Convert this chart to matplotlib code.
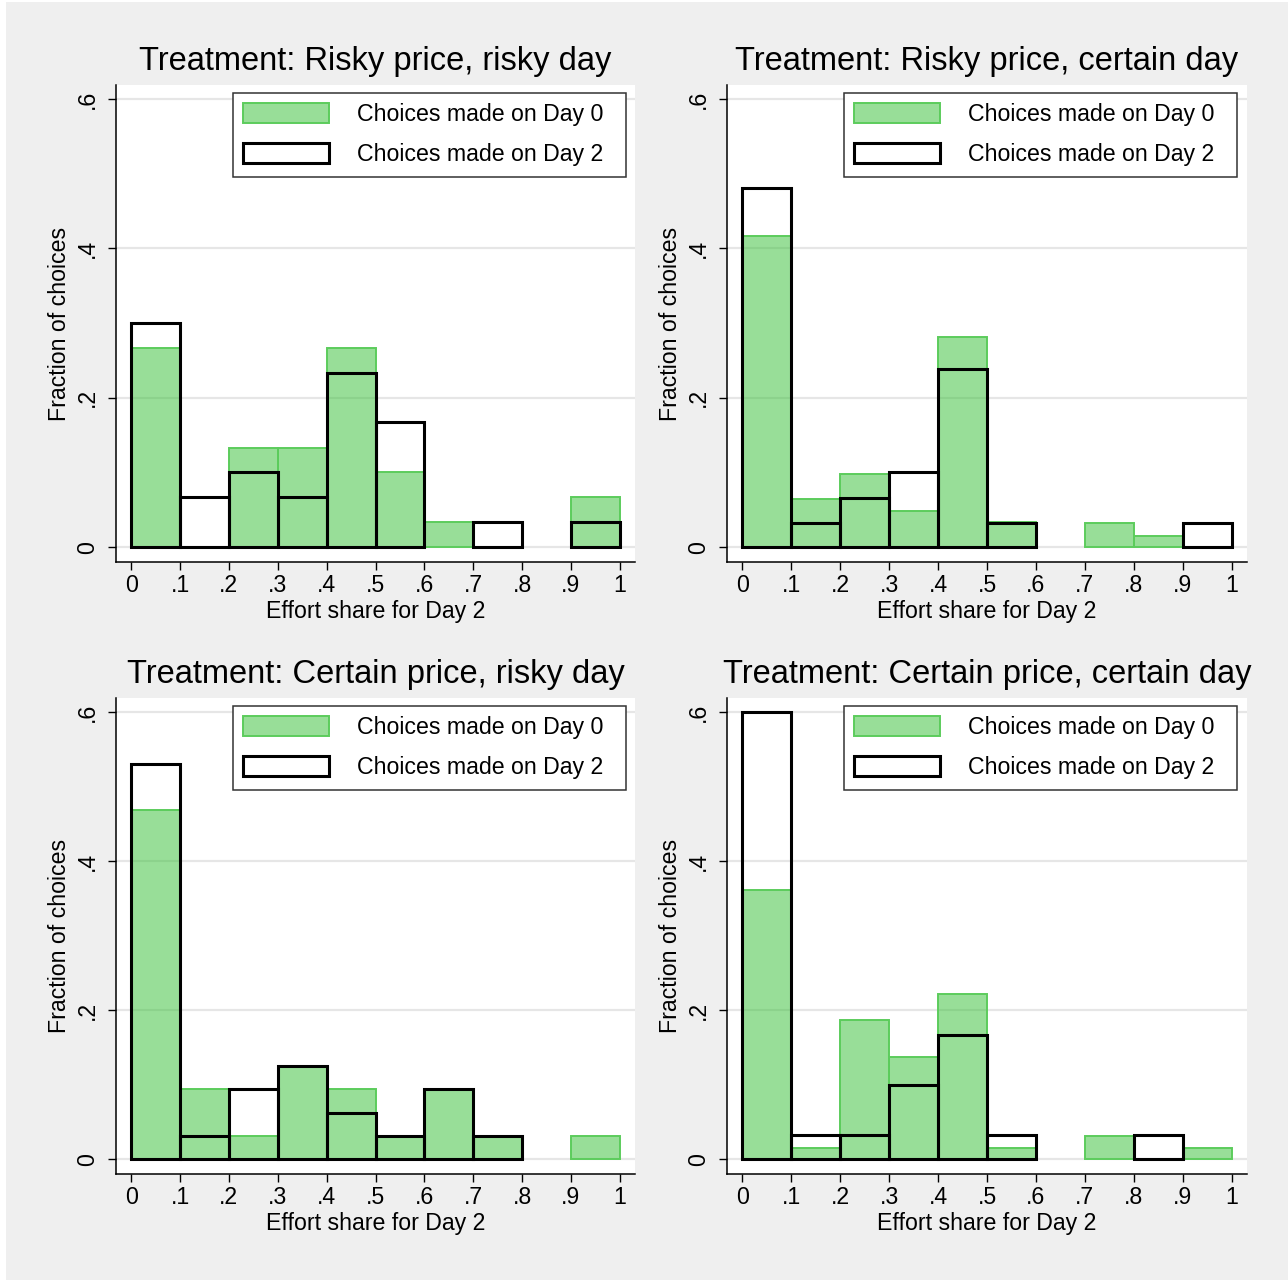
import matplotlib
matplotlib.use("Agg")
import matplotlib.pyplot as plt
from matplotlib.patches import Patch, Rectangle

plt.rcParams["font.family"] = ["Liberation Sans", "DejaVu Sans"]

# bin left edges (effort share for Day 2)
bins = [0.0, 0.1, 0.2, 0.3, 0.4, 0.5, 0.6, 0.7, 0.8, 0.9]

titles = [
    "Treatment: Risky price, risky day",
    "Treatment: Risky price, certain day",
    "Treatment: Certain price, risky day",
    "Treatment: Certain price, certain day",
]

# fraction of choices per bin, choices made on Day 0
day0_rr = [0.267, 0.0, 0.133, 0.133, 0.267, 0.100, 0.033, 0.0, 0.0, 0.067]
day0_rc = [0.417, 0.065, 0.098, 0.048, 0.282, 0.033, 0.0, 0.032, 0.015, 0.0]
day0_cr = [0.469, 0.094, 0.031, 0.125, 0.094, 0.031, 0.094, 0.031, 0.0, 0.031]
day0_cc = [0.361, 0.015, 0.187, 0.137, 0.222, 0.015, 0.0, 0.031, 0.0, 0.015]

# fraction of choices per bin, choices made on Day 2
day2_rr = [0.300, 0.067, 0.100, 0.067, 0.233, 0.167, 0.0, 0.033, 0.0, 0.033]
day2_rc = [0.481, 0.032, 0.066, 0.100, 0.239, 0.032, 0.0, 0.0, 0.0, 0.032]
day2_cr = [0.531, 0.031, 0.094, 0.125, 0.0625, 0.031, 0.094, 0.031, 0.0, 0.0]
day2_cc = [0.600, 0.033, 0.033, 0.100, 0.167, 0.033, 0.0, 0.0, 0.033, 0.0]

day0 = [day0_rr, day0_rc, day0_cr, day0_cc]
day2 = [day2_rr, day2_rc, day2_cr, day2_cc]

xticks = [0, 0.1, 0.2, 0.3, 0.4, 0.5, 0.6, 0.7, 0.8, 0.9, 1.0]
xticklabels = ["0", ".1", ".2", ".3", ".4", ".5", ".6", ".7", ".8", ".9", "1"]
yticks = [0, 0.2, 0.4, 0.6]
yticklabels = ["0", ".2", ".4", ".6"]

green_face = (0.2, 0.75, 0.2, 0.5)
green_edge = "#5ccc5c"
fs = 16.7

W, H = 1288, 1280
fig = plt.figure(figsize=(W / 100, H / 100), dpi=100, facecolor="#efefef")
fig.patches.append(Rectangle((0, 0), 6 / W, 1, transform=fig.transFigure,
                             facecolor="white", edgecolor="none"))
fig.patches.append(Rectangle((0, 1 - 2 / H), 1, 2 / H, transform=fig.transFigure,
                             facecolor="white", edgecolor="none"))

# axes boxes in pixels: left, top, right, bottom
boxes = [(116, 85, 635, 562), (727, 85, 1247, 562),
         (116, 698, 635, 1174), (727, 698, 1247, 1174)]


def nonzero(xs, ys):
    # empty bins are not drawn
    pairs = [(x, y) for x, y in zip(xs, ys) if y > 0]
    return [p[0] for p in pairs], [p[1] for p in pairs]


for i, (l, t, r, b) in enumerate(boxes):
    aw, ah = r - l, b - t
    ax = fig.add_axes([l / W, 1 - b / H, aw / W, ah / H])
    ax.set_facecolor("white")
    ax.set_axisbelow(True)
    ax.grid(axis="y", color="#e6e6e6", linewidth=1.6)

    x0, y0 = nonzero(bins, day0[i])
    x2, y2 = nonzero(bins, day2[i])
    ax.bar(x0, y0, width=0.1, align="edge",
           facecolor=green_face, edgecolor=green_edge, linewidth=1.4)
    ax.bar(x2, y2, width=0.1, align="edge",
           facecolor="none", edgecolor="black", linewidth=2.2)

    ax.set_xlim(-0.031, 1.031)
    ax.set_ylim(-0.02, 0.619)
    ax.set_xticks(xticks)
    ax.set_xticklabels(xticklabels)
    ax.set_yticks(yticks)
    ax.set_yticklabels(yticklabels, rotation=90, va="center")
    ax.tick_params(axis="both", labelsize=fs, length=6, width=1, direction="out")
    ax.tick_params(axis="y", pad=6)
    ax.tick_params(axis="x", pad=3)

    for s in ["top", "right"]:
        ax.spines[s].set_visible(False)
    for s in ["left", "bottom"]:
        ax.spines[s].set_linewidth(1.1)

    ax.set_xlabel("Effort share for Day 2", fontsize=fs, labelpad=2)
    ax.set_ylabel("Fraction of choices", fontsize=fs, labelpad=4)
    ax.set_title(titles[i], fontsize=23.5, pad=11)

    handles = [
        Patch(facecolor=green_face, edgecolor=green_edge, linewidth=1.4,
              label="Choices made on Day 0"),
        Patch(facecolor="white", edgecolor="black", linewidth=2.2,
              label="Choices made on Day 2"),
    ]
    bx0 = (l + 117) / 1.0
    leg = ax.legend(handles=handles, loc="upper right",
                    bbox_to_anchor=(117 / aw, 0, 393 / aw, 1 - 8 / ah),
                    mode="expand", fontsize=fs, frameon=True, fancybox=False,
                    borderaxespad=0, borderpad=0.45, handlelength=3.7,
                    handleheight=0.95, handletextpad=1.2, labelspacing=0.72)
    leg.get_frame().set_edgecolor("#333333")
    leg.get_frame().set_linewidth(1.1)
    leg.get_frame().set_alpha(1)

plt.savefig("out.png", dpi=100, facecolor=fig.get_facecolor())
